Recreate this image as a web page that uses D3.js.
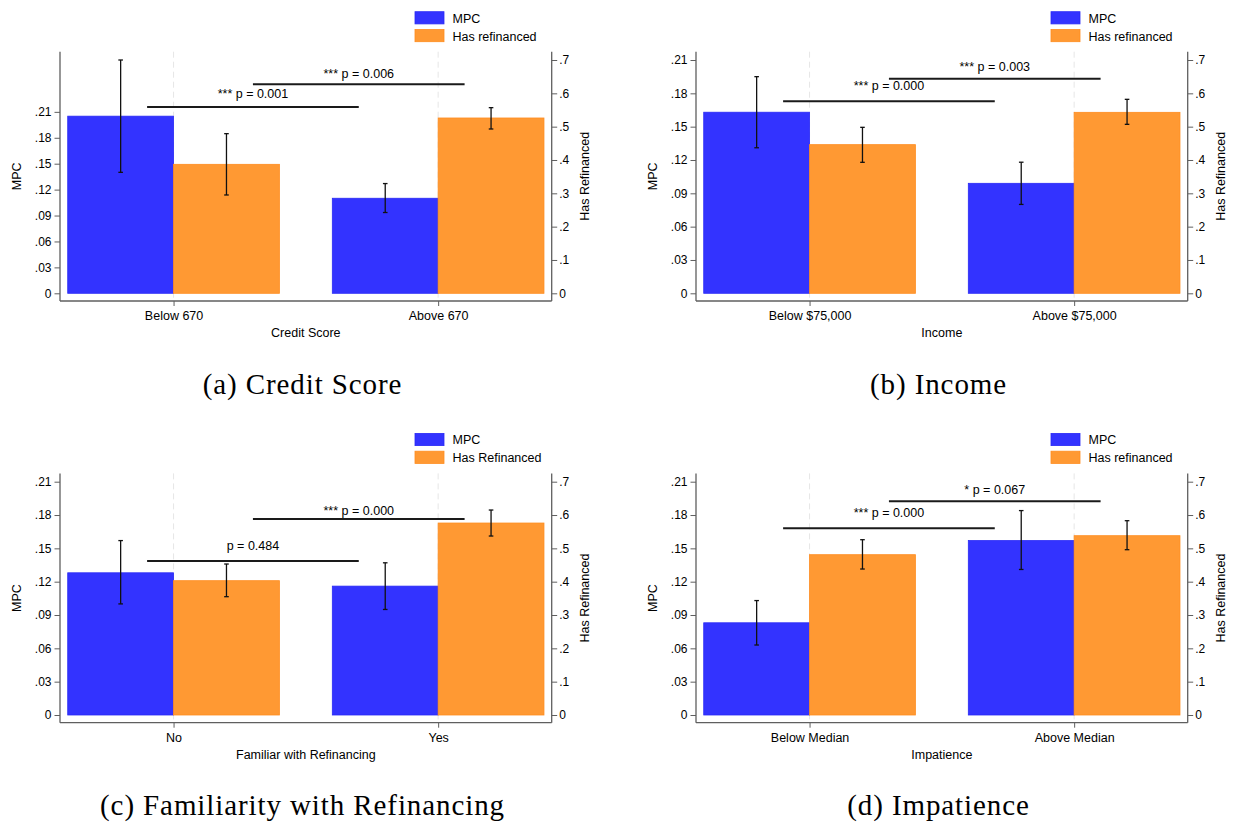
<!DOCTYPE html>
<html>
<head>
<meta charset="utf-8">
<script src="https://cdn.jsdelivr.net/npm/d3@7"></script>
<style>
  html, body { margin: 0; padding: 0; background: #fff; }
  svg { display: block; }
  .axis text { font-family: "Liberation Sans", Arial, Helvetica, sans-serif; font-size: 12px; fill: #000; }
</style>
</head>
<body>
<svg id="chart" width="1233" height="822"></svg>
<script>
// ---- data -------------------------------------------------------------
const subtitles = ["(a) Credit Score", "(b) Income", "(c) Familiarity with Refinancing", "(d) Impatience"];
const xTitles = ["Credit Score", "Income", "Familiar with Refinancing", "Impatience"];
const categories = [
  ["Below 670", "Above 670"],
  ["Below $75,000", "Above $75,000"],
  ["No", "Yes"],
  ["Below Median", "Above Median"]
];
const legendMpc = ["MPC", "MPC", "MPC", "MPC"];
const legendRefi = ["Has refinanced", "Has refinanced", "Has Refinanced", "Has refinanced"];

// MPC means and 95% bounds
const mpc   = [[0.205, 0.110], [0.163, 0.099], [0.128, 0.116], [0.083, 0.157]];
const mpcLo = [[0.140, 0.0935], [0.131, 0.080], [0.100, 0.095], [0.063, 0.131]];
const mpcHi = [[0.270, 0.127], [0.195, 0.118], [0.157, 0.137], [0.103, 0.184]];

// Share that has refinanced, with bounds
const refi   = [[0.387, 0.526], [0.446, 0.543], [0.403, 0.576], [0.481, 0.538]];
const refiLo = [[0.295, 0.493], [0.393, 0.507], [0.355, 0.537], [0.438, 0.496]];
const refiHi = [[0.479, 0.557], [0.498, 0.582], [0.453, 0.615], [0.526, 0.583]];

// Difference tests: [MPC comparison, refinancing comparison]
const pLabels = [
  ["*** p = 0.001", "*** p = 0.006"],
  ["*** p = 0.000", "*** p = 0.003"],
  ["p = 0.484", "*** p = 0.000"],
  ["*** p = 0.000", "* p = 0.067"]
];
// heights of the test brackets and their labels, in "Has Refinanced" units
const bracketLevels = [[0.559, 0.627], [0.576, 0.644], [0.462, 0.588], [0.560, 0.641]];
const labelLevels   = [[0.600, 0.660], [0.623, 0.679], [0.509, 0.613], [0.608, 0.675]];

const leftTicks  = [0, 0.03, 0.06, 0.09, 0.12, 0.15, 0.18, 0.21];
const rightTicks = [0, 0.1, 0.2, 0.3, 0.4, 0.5, 0.6, 0.7];

// ---- layout -------------------------------------------------------------
const panelX = [0, 636, 0, 636];
const panelY = [0, 0, 421.7, 421.7];
const axL = 60, axR = 551.7, plotTop = 51.7, axB = 301;
const yZero = 293.3, yTopPx = 60;

const BLUE_FILL = "#3333ff", BLUE_LINE = "#2a2af5";
const ORANGE_FILL = "#ff9933", ORANGE_LINE = "#ff8c1f";
const AXIS_COL = "#5f5f5f";
const SANS = '"Liberation Sans", Arial, Helvetica, sans-serif';
const SERIF = '"Liberation Serif", "Times New Roman", serif';

const svg = d3.select("#chart");
svg.append("rect").attr("width", 1233).attr("height", 822).attr("fill", "#fff");

for (let p = 0; p < 4; p++) {
  const g = svg.append("g").attr("transform", `translate(${panelX[p]},${panelY[p]})`);

  // x positions in bar-width units: group k starts at k*2.5; MPC bar then refinancing bar
  const x = d3.scaleLinear().domain([-0.073, 4.573]).range([axL, axR]);
  const groupStart = [0, 2.5];
  const centers = groupStart.map(s => s + 1);

  const leftMax = Math.max(0.21, d3.max(mpcHi[p]));
  const rightMax = Math.max(0.7, d3.max(refiHi[p]));
  const yL = d3.scaleLinear().domain([0, leftMax]).range([yZero, yTopPx]);
  const yR = d3.scaleLinear().domain([0, rightMax]).range([yZero, yTopPx]);

  // dashed category guides
  g.selectAll("line.guide").data(centers).join("line")
    .attr("class", "guide")
    .attr("x1", d => x(d)).attr("x2", d => x(d))
    .attr("y1", plotTop).attr("y2", axB)
    .attr("stroke", "#e6e6e6").attr("stroke-width", 1)
    .attr("stroke-dasharray", "6,4");

  // bars
  const bars = [];
  for (let k = 0; k < 2; k++) {
    bars.push({ x0: groupStart[k], x1: groupStart[k] + 1, y: yL(mpc[p][k]), fill: BLUE_FILL, line: BLUE_LINE });
    bars.push({ x0: groupStart[k] + 1, x1: groupStart[k] + 2, y: yR(refi[p][k]), fill: ORANGE_FILL, line: ORANGE_LINE });
  }
  g.selectAll("rect.bar").data(bars).join("rect")
    .attr("class", "bar")
    .attr("x", d => x(d.x0)).attr("width", d => x(d.x1) - x(d.x0))
    .attr("y", d => d.y).attr("height", d => yZero - d.y)
    .attr("fill", d => d.fill).attr("stroke", d => d.line).attr("stroke-width", 0.8);

  // error bars
  const errs = [];
  for (let k = 0; k < 2; k++) {
    errs.push({ cx: groupStart[k] + 0.5, lo: yL(mpcLo[p][k]), hi: yL(mpcHi[p][k]) });
    errs.push({ cx: groupStart[k] + 1.5, lo: yR(refiLo[p][k]), hi: yR(refiHi[p][k]) });
  }
  const eg = g.selectAll("g.err").data(errs).join("g").attr("class", "err")
    .attr("stroke", "#111").attr("stroke-width", 1.3);
  eg.append("line").attr("x1", d => x(d.cx)).attr("x2", d => x(d.cx)).attr("y1", d => d.lo).attr("y2", d => d.hi);
  eg.append("line").attr("x1", d => x(d.cx) - 2.3).attr("x2", d => x(d.cx) + 2.3).attr("y1", d => d.lo).attr("y2", d => d.lo);
  eg.append("line").attr("x1", d => x(d.cx) - 2.3).attr("x2", d => x(d.cx) + 2.3).attr("y1", d => d.hi).attr("y2", d => d.hi);

  // test brackets: MPC bars compared, then refinancing bars compared
  const brackets = [
    { a: 0.75, b: 2.75, level: bracketLevels[p][0], label: pLabels[p][0], ly: labelLevels[p][0] },
    { a: 1.75, b: 3.75, level: bracketLevels[p][1], label: pLabels[p][1], ly: labelLevels[p][1] }
  ];
  g.selectAll("line.bracket").data(brackets).join("line")
    .attr("class", "bracket")
    .attr("x1", d => x(d.a)).attr("x2", d => x(d.b))
    .attr("y1", d => yR(d.level)).attr("y2", d => yR(d.level))
    .attr("stroke", "#1a1a1a").attr("stroke-width", 2);
  g.selectAll("text.plab").data(brackets).join("text")
    .attr("class", "plab")
    .attr("x", d => x((d.a + d.b) / 2)).attr("y", d => yR(d.ly))
    .attr("dy", "0.35em").attr("text-anchor", "middle")
    .style("font-family", SANS).style("font-size", "12.5px")
    .text(d => d.label);

  // left axis
  const leftAxis = d3.axisLeft(yL).tickValues(leftTicks).tickSize(5.5).tickPadding(3)
    .tickFormat(d => d === 0 ? "0" : d3.format(".2f")(d).replace(/^0/, ""));
  const la = g.append("g").attr("class", "axis").attr("transform", `translate(${axL},0)`).call(leftAxis);
  la.select(".domain").remove();
  la.selectAll(".tick line").attr("stroke", AXIS_COL);
  g.append("line").attr("x1", axL).attr("x2", axL).attr("y1", plotTop).attr("y2", axB)
    .attr("stroke", AXIS_COL).attr("stroke-width", 1.3);

  // right axis
  const rightAxis = d3.axisRight(yR).tickValues(rightTicks).tickSize(5.5).tickPadding(2)
    .tickFormat(d => d === 0 ? "0" : d3.format(".1f")(d).replace(/^0/, ""));
  const ra = g.append("g").attr("class", "axis").attr("transform", `translate(${axR},0)`).call(rightAxis);
  ra.select(".domain").remove();
  ra.selectAll(".tick line").attr("stroke", AXIS_COL);
  g.append("line").attr("x1", axR).attr("x2", axR).attr("y1", plotTop).attr("y2", axB)
    .attr("stroke", AXIS_COL).attr("stroke-width", 1.3);

  // bottom axis at the two category centres
  const bottomAxis = d3.axisBottom(d3.scalePoint().domain(categories[p]).range([x(centers[0]), x(centers[1])]))
    .tickSize(5).tickPadding(5);
  const ba = g.append("g").attr("class", "axis").attr("transform", `translate(0,${axB})`).call(bottomAxis);
  ba.select(".domain").remove();
  ba.selectAll(".tick line").attr("stroke", AXIS_COL);
  ba.selectAll(".tick text").style("font-size", "12.5px");
  g.append("line").attr("x1", axL).attr("x2", axR).attr("y1", axB).attr("y2", axB)
    .attr("stroke", AXIS_COL).attr("stroke-width", 1.3);

  // axis titles
  g.append("text").attr("x", (axL + axR) / 2).attr("y", 337)
    .attr("text-anchor", "middle").style("font-family", SANS).style("font-size", "12.5px")
    .text(xTitles[p]);
  g.append("text").attr("transform", `translate(21,${(plotTop + axB) / 2}) rotate(-90)`)
    .attr("text-anchor", "middle").style("font-family", SANS).style("font-size", "12.5px")
    .text("MPC");
  g.append("text").attr("transform", `translate(589,${(plotTop + axB) / 2}) rotate(-90)`)
    .attr("text-anchor", "middle").style("font-family", SANS).style("font-size", "12.5px")
    .text("Has Refinanced");

  // legend
  const legend = [
    { label: legendMpc[p], fill: BLUE_FILL, line: BLUE_LINE },
    { label: legendRefi[p], fill: ORANGE_FILL, line: ORANGE_LINE }
  ];
  const lg = g.selectAll("g.leg").data(legend).join("g").attr("class", "leg")
    .attr("transform", (d, i) => `translate(415,${11.7 + i * 17.8})`);
  lg.append("rect").attr("width", 29).attr("height", 12.2)
    .attr("fill", d => d.fill).attr("stroke", d => d.line).attr("stroke-width", 0.8);
  lg.append("text").attr("x", 37.5).attr("y", 11)
    .style("font-family", SANS).style("font-size", "12.5px").text(d => d.label);

  // subfigure caption
  g.append("text").attr("x", 302.5).attr("y", 393.5)
    .attr("text-anchor", "middle").style("font-family", SERIF).style("font-size", "29px")
    .style("letter-spacing", "0.9px")
    .text(subtitles[p]);
}
</script>
</body>
</html>
